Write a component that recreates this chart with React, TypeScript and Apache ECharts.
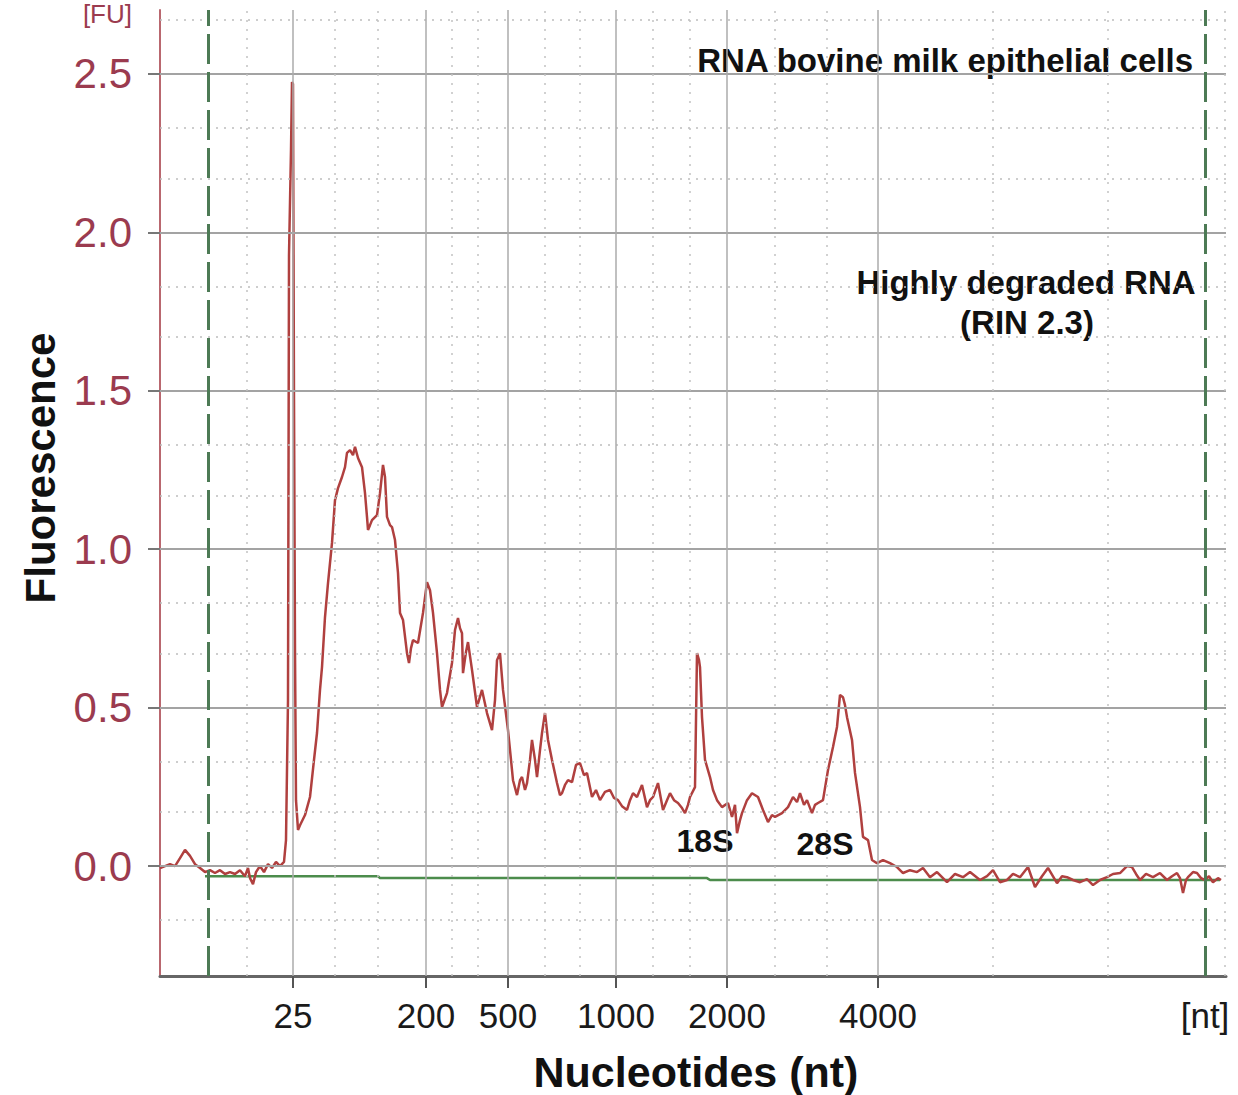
import React, { useEffect, useRef } from "react";
import * as echarts from "echarts";

// Migration time (s) of the electropherogram trace and its fluorescence (FU)
const traceTime = [
  17.0, 17.25, 17.5, 17.75, 18.0, 18.25, 18.5, 18.75, 19.0, 19.25, 19.5, 19.75, 20.0, 20.25, 20.5, 20.75,
  21.0, 21.25, 21.4, 21.5, 21.65, 21.8, 22.0, 22.2, 22.4, 22.6, 22.8, 23.0, 23.2, 23.3, 23.4, 23.45,
  23.55, 23.6, 23.65, 23.7, 23.75, 23.8, 23.9, 24.0, 24.25, 24.5, 24.7, 24.85, 25.0, 25.1, 25.25, 25.4,
  25.6, 25.75, 25.9, 26.1, 26.25, 26.35, 26.5, 26.65, 26.75, 26.9, 27.1, 27.25, 27.35, 27.4, 27.5, 27.6,
  27.85, 28.0, 28.15, 28.25, 28.35, 28.5, 28.6, 28.75, 28.9, 29.0, 29.15, 29.35, 29.45, 29.55, 29.65, 29.9,
  30.15, 30.35, 30.5, 30.65, 30.85, 31.0, 31.1, 31.35, 31.6, 31.75, 31.9, 32.0, 32.1, 32.15, 32.3, 32.4,
  32.6, 32.85, 33.1, 33.35, 33.6, 33.75, 33.85, 34.0, 34.15, 34.4, 34.55, 34.65, 34.85, 35.0, 35.1, 35.25,
  35.35, 35.5, 35.6, 35.75, 35.85, 36.0, 36.1, 36.25, 36.4, 36.6, 36.85, 37.0, 37.1, 37.25, 37.4, 37.6,
  37.8, 38.0, 38.2, 38.35, 38.6, 38.8, 39.0, 39.25, 39.5, 39.7, 39.9, 40.1, 40.35, 40.5, 40.65, 40.85,
  41.1, 41.35, 41.5, 41.65, 41.9, 42.15, 42.35, 42.5, 42.7, 42.9, 43.1, 43.25, 43.4, 43.5, 43.75, 43.85,
  43.95, 44.0, 44.1, 44.25, 44.5, 44.65, 44.85, 45.1, 45.4, 45.6, 45.75, 45.85, 46.0, 46.1, 46.35, 46.6,
  46.9, 47.15, 47.4, 47.6, 47.75, 48.1, 48.4, 48.65, 48.85, 49.0, 49.2, 49.35, 49.6, 49.75, 49.9, 50.15,
  50.4, 50.65, 50.85, 51.0, 51.15, 51.25, 51.35, 51.6, 51.75, 52.0, 52.15, 52.4, 52.6, 52.85, 53.15, 53.5,
  53.85, 54.15, 54.5, 54.85, 55.15, 55.5, 55.85, 56.35, 56.75, 57.15, 57.5, 58.0, 58.35, 58.65, 59.0, 59.35,
  59.65, 60.0, 60.4, 60.75, 61.1, 61.4, 61.85, 62.1, 62.35, 62.65, 63.0, 63.35, 63.65, 64.0, 64.35, 64.65,
  65.0, 65.35, 65.6, 65.8, 66.0, 66.3, 66.65, 67.0, 67.35, 67.6, 67.85, 68.0, 68.15, 68.3, 68.4, 68.65,
  68.85, 69.05, 69.25, 69.45, 69.65, 69.9, 70.05,
];
const traceFU = [
  -0.006, 0.0, 0.006, 0.0, 0.025, 0.051, 0.032, 0.006, -0.006, -0.019, -0.013, -0.022, -0.013, -0.025, -0.019, -0.025,
  -0.013, -0.032, -0.006, -0.038, -0.057, -0.019, 0.0, -0.019, 0.006, -0.006, 0.013, 0.0, 0.013, 0.082, 0.524, 1.929,
  2.26, 2.475, 2.468, 1.471, 0.682, 0.208, 0.114, 0.129, 0.161, 0.218, 0.335, 0.42, 0.556, 0.628, 0.786, 0.893,
  1.02, 1.155, 1.193, 1.228, 1.259, 1.304, 1.313, 1.297, 1.323, 1.288, 1.259, 1.177, 1.102, 1.061, 1.076, 1.092,
  1.108, 1.177, 1.266, 1.228, 1.102, 1.076, 1.07, 1.029, 0.925, 0.799, 0.777, 0.672, 0.641, 0.688, 0.713, 0.704,
  0.799, 0.896, 0.871, 0.799, 0.672, 0.556, 0.502, 0.546, 0.641, 0.745, 0.783, 0.751, 0.735, 0.609, 0.676, 0.707,
  0.619, 0.502, 0.556, 0.483, 0.429, 0.524, 0.65, 0.672, 0.556, 0.429, 0.335, 0.271, 0.224, 0.271, 0.281, 0.24,
  0.262, 0.335, 0.398, 0.335, 0.281, 0.366, 0.42, 0.483, 0.398, 0.335, 0.262, 0.224, 0.23, 0.256, 0.271, 0.265,
  0.319, 0.325, 0.287, 0.294, 0.218, 0.24, 0.208, 0.234, 0.24, 0.215, 0.208, 0.189, 0.177, 0.208, 0.23, 0.218,
  0.256, 0.186, 0.208, 0.218, 0.262, 0.177, 0.208, 0.23, 0.208, 0.199, 0.183, 0.167, 0.193, 0.218, 0.249, 0.672,
  0.65, 0.628, 0.47, 0.335, 0.281, 0.24, 0.208, 0.186, 0.199, 0.155, 0.193, 0.104, 0.145, 0.167, 0.208, 0.23,
  0.218, 0.177, 0.139, 0.161, 0.155, 0.167, 0.186, 0.218, 0.202, 0.23, 0.193, 0.208, 0.167, 0.193, 0.199, 0.208,
  0.303, 0.376, 0.439, 0.54, 0.533, 0.508, 0.47, 0.398, 0.294, 0.186, 0.092, 0.082, 0.019, 0.009, 0.019, 0.009,
  -0.003, -0.022, -0.013, -0.019, -0.006, -0.035, -0.019, -0.051, -0.025, -0.035, -0.019, -0.044, -0.032, -0.013, -0.051, -0.044,
  -0.025, -0.035, -0.003, -0.066, -0.032, -0.006, -0.054, -0.032, -0.035, -0.044, -0.051, -0.041, -0.06, -0.044, -0.035, -0.025,
  -0.022, 0.0, -0.003, -0.025, -0.044, -0.025, -0.035, -0.022, -0.044, -0.032, -0.022, -0.038, -0.085, -0.044, -0.035, -0.019,
  -0.022, -0.038, -0.044, -0.032, -0.051, -0.038, -0.044,
];

// Green baseline
const baselineTime = [19.25, 27.9, 28.0, 44.35, 44.5, 70.0];
const baselineFU = [-0.032, -0.032, -0.038, -0.038, -0.044, -0.044];

// Ladder positions (s) and their labels
const ladderTime = [23.65, 30.3, 34.4, 39.8, 45.35, 52.9, 69.25];
const ladderLabels = ["25", "200", "500", "1000", "2000", "4000", "[nt]"];

// Lower / upper marker positions (s)
const markerTime = [19.4, 69.25];

// Dotted vertical grid positions (s)
const minorTime = [21.35, 25.75, 27.9, 31.6, 32.9, 36.25, 38.0, 41.65, 43.5, 47.75, 50.35, 58.65, 64.4, 70.25];

// Y ticks and grid
const yMajor = [0, 0.5, 1.0, 1.5, 2.0, 2.5];
const yMinor = [-0.1667, 0.1667, 0.3333, 0.6667, 0.8333, 1.1667, 1.3333, 1.6667, 1.8333, 2.1667, 2.3333, 2.6667];

const FONT = '"Liberation Sans", Arial, Helvetica, sans-serif';

export default function App() {
  const ref = useRef<HTMLDivElement>(null);

  useEffect(() => {
    document.body.style.margin = "0";
    if (!ref.current) return;
    const chart = echarts.init(ref.current, undefined, { renderer: "svg" });

    const trace = traceTime.map((t, i) => [t, traceFU[i]]);
    const baseline = baselineTime.map((t, i) => [t, baselineFU[i]]);

    const gridLines: any[] = [];
    yMajor.forEach((v) =>
      gridLines.push({ yAxis: v, lineStyle: { color: "#a3a3a3", width: 2, type: "solid" } })
    );
    yMinor.forEach((v) =>
      gridLines.push({ yAxis: v, lineStyle: { color: "#bdbdbd", width: 1.5, type: [2, 6] } })
    );
    ladderTime.slice(0, 6).forEach((v) =>
      gridLines.push({ xAxis: v, lineStyle: { color: "#ababab", width: 1.5, type: "solid" } })
    );
    minorTime.forEach((v) =>
      gridLines.push({ xAxis: v, lineStyle: { color: "#c2c2c2", width: 1.5, type: [2, 7] } })
    );
    markerTime.forEach((v) =>
      gridLines.push({ xAxis: v, lineStyle: { color: "#4d7a55", width: 3, type: [30, 8] } })
    );

    const labelFor = (v: number) => {
      let best = 0;
      let d = Infinity;
      ladderTime.forEach((t, i) => {
        if (Math.abs(t - v) < d) {
          d = Math.abs(t - v);
          best = i;
        }
      });
      return ladderLabels[best];
    };

    const option: any = {
      animation: false,
      grid: { left: 160, right: 12, top: 10, bottom: 119, outerBoundsMode: "none", containLabel: false },
      xAxis: {
        type: "value",
        min: 17,
        max: 70.3,
        axisLine: { show: true, onZero: false, lineStyle: { color: "#666666", width: 3 } },
        axisTick: {
          show: true,
          customValues: ladderTime.slice(0, 6),
          length: 12,
          lineStyle: { color: "#555555", width: 2 },
        },
        axisLabel: {
          customValues: ladderTime,
          formatter: (v: number) => labelFor(v),
          fontSize: 35,
          color: "#1a1a1a",
          margin: 22,
          fontFamily: FONT,
        },
        splitLine: { show: false },
      },
      yAxis: {
        type: "value",
        min: -0.347,
        max: 2.702,
        axisLine: { show: true, onZero: false, lineStyle: { color: "#b9676f", width: 2 } },
        axisTick: {
          show: true,
          customValues: yMajor,
          length: 12,
          lineStyle: { color: "#777777", width: 2 },
        },
        axisLabel: {
          customValues: yMajor,
          formatter: (v: number) => v.toFixed(1),
          fontSize: 42,
          color: "#9b3b4f",
          margin: 28,
          fontFamily: FONT,
        },
        splitLine: { show: false },
      },
      series: [
        {
          type: "line",
          name: "baseline",
          data: baseline,
          showSymbol: false,
          silent: true,
          z: 2,
          lineStyle: { color: "#4c8c4c", width: 2.5 },
          markLine: {
            silent: true,
            symbol: ["none", "none"],
            label: { show: false },
            emphasis: { disabled: true },
            data: gridLines,
          },
        },
        {
          type: "line",
          name: "trace",
          data: trace,
          showSymbol: false,
          silent: true,
          z: 3,
          lineStyle: { color: "#b0403f", width: 2.5 },
        },
      ],
      graphic: [
        {
          type: "text",
          x: 132,
          y: 1,
          style: {
            text: "[FU]",
            font: `26px ${FONT}`,
            fill: "#9b3b4f",
            align: "right",
            verticalAlign: "top",
          },
        },
        {
          type: "text",
          x: 40,
          y: 468,
          rotation: Math.PI / 2,
          style: {
            text: "Fluorescence",
            font: `bold 42px ${FONT}`,
            fill: "#111111",
            align: "center",
            verticalAlign: "middle",
          },
        },
        {
          type: "text",
          x: 696,
          y: 1072,
          style: {
            text: "Nucleotides (nt)",
            font: `bold 43px ${FONT}`,
            fill: "#111111",
            align: "center",
            verticalAlign: "middle",
          },
        },
        {
          type: "text",
          x: 1193,
          y: 60,
          style: {
            text: "RNA bovine milk epithelial cells",
            font: `bold 33px ${FONT}`,
            fill: "#111111",
            align: "right",
            verticalAlign: "middle",
          },
        },
        {
          type: "text",
          x: 1026,
          y: 282,
          style: {
            text: "Highly degraded RNA",
            font: `bold 33px ${FONT}`,
            fill: "#111111",
            align: "center",
            verticalAlign: "middle",
          },
        },
        {
          type: "text",
          x: 1027,
          y: 322,
          style: {
            text: "(RIN 2.3)",
            font: `bold 33px ${FONT}`,
            fill: "#111111",
            align: "center",
            verticalAlign: "middle",
          },
        },
        {
          type: "text",
          x: 705,
          y: 841,
          style: {
            text: "18S",
            font: `bold 32px ${FONT}`,
            fill: "#111111",
            align: "center",
            verticalAlign: "middle",
          },
        },
        {
          type: "text",
          x: 825,
          y: 844,
          style: {
            text: "28S",
            font: `bold 32px ${FONT}`,
            fill: "#111111",
            align: "center",
            verticalAlign: "middle",
          },
        },
      ],
    };

    chart.setOption(option);
    return () => chart.dispose();
  }, []);

  return (
    <div
      ref={ref}
      style={{ position: "fixed", left: 0, top: 0, width: 1238, height: 1095, background: "#ffffff" }}
    />
  );
}
